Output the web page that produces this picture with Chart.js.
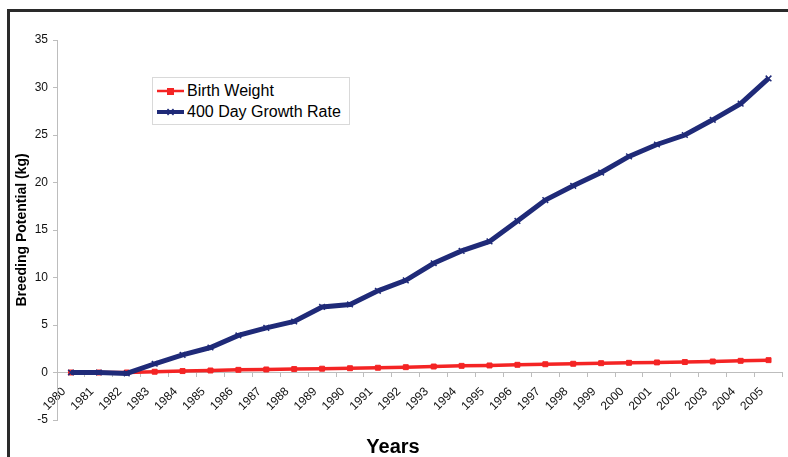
<!DOCTYPE html>
<html>
<head>
<meta charset="utf-8">
<script src="https://cdn.jsdelivr.net/npm/chart.js@4/dist/chart.umd.min.js"></script>
<style>
  html, body { margin: 0; padding: 0; background: #fff; overflow: hidden; }
  #wrap { position: relative; width: 788px; height: 457px; }
  #frame { position: absolute; left: 7px; top: 9px; width: 900px; height: 600px;
           border-left: 3px solid #2a2a2a; border-top: 3px solid #2a2a2a; pointer-events: none; }
  #legend { position: absolute; left: 152px; top: 77px; width: 196px; height: 44px;
            border: 1px solid #d9d9d9; background: #fff; padding-top: 2px;
            font: 16px "Liberation Sans", Arial, sans-serif; color: #000; }
  #legend .row { height: 21px; display: flex; align-items: center; padding-left: 4px; }
  #legend svg { margin-right: 3px; }
</style>
</head>
<body>
<div id="wrap">
  <canvas id="chart" width="788" height="457"></canvas>
  <div id="frame"></div>
  <div id="legend"></div>
</div>
<script>
    // categories and series values
    var years = ["1980", "1981", "1982", "1983", "1984", "1985", "1986", "1987", "1988",
        "1989", "1990", "1991", "1992", "1993", "1994", "1995", "1996", "1997", "1998",
        "1999", "2000", "2001", "2002", "2003", "2004", "2005"];

    var birthWeight = [0, 0, 0, 0.08, 0.15, 0.21, 0.28, 0.32, 0.36, 0.4, 0.45, 0.5, 0.56,
        0.63, 0.7, 0.74, 0.81, 0.87, 0.92, 0.98, 1.02, 1.06, 1.1, 1.16, 1.23, 1.3];

    var growthRate = [0, 0, -0.1, 0.92, 1.85, 2.63, 3.9, 4.7, 5.37, 6.9, 7.16, 8.6, 9.7,
        11.5, 12.8, 13.8, 15.95, 18.15, 19.65, 21.05, 22.75, 24.0, 25.0, 26.6, 28.3, 30.95];

    var seriesNames = ["Birth Weight", "400 Day Growth Rate"];
    var yTicks = { min: -5, max: 35, step: 5 };

    var RED = "#f42424";
    var NAVY = "#1f2a78";
    var FONT = "'Liberation Sans', Arial, sans-serif";

    var chart = new Chart(document.getElementById("chart"), {
        type: "line",
        data: {
            labels: years,
            datasets: [{
                label: seriesNames[0],
                data: birthWeight,
                borderColor: RED,
                backgroundColor: RED,
                borderWidth: 3.5,
                pointStyle: "rect",
                pointRadius: 3.5,
                pointBorderWidth: 1,
                tension: 0,
                order: 2
            }, {
                label: seriesNames[1],
                data: growthRate,
                borderColor: NAVY,
                backgroundColor: NAVY,
                borderWidth: 5,
                pointStyle: "crossRot",
                pointRadius: 4,
                pointBorderWidth: 1.5,
                tension: 0,
                order: 1
            }]
        },
        options: {
            responsive: false,
            animation: false,
            layout: { padding: { left: 0, right: 2, top: 40, bottom: 0 } },
            plugins: {
                legend: { display: false },
                tooltip: { enabled: false },
                title: {
                    display: true,
                    text: "Years",
                    position: "bottom",
                    color: "#000",
                    font: { family: FONT, size: 20, weight: "bold", lineHeight: 1 },
                    padding: { top: 17, bottom: 0 }
                }
            },
            scales: {
                x: {
                    type: "category",
                    position: { y: 0 },
                    offset: true,
                    // labels hang below the zero line, keep them from squeezing the plot
                    afterFit: function (scale) { scale.paddingLeft = 0; scale.paddingRight = 0; },
                    grid: { display: true, drawOnChartArea: false, drawTicks: true,
                            tickLength: 4, offset: true, color: "#bdbdbd" },
                    border: { color: "#bdbdbd", width: 1 },
                    ticks: { autoSkip: false, minRotation: 45, maxRotation: 45,
                             color: "#111", font: { family: FONT, size: 12 },
                             padding: 8, labelOffset: -7 }
                },
                y: {
                    min: yTicks.min,
                    max: yTicks.max,
                    position: "left",
                    afterFit: function (scale) { scale.width = 57; },
                    grid: { display: true, drawOnChartArea: false, drawTicks: true,
                            tickLength: 4, color: "#bdbdbd" },
                    border: { color: "#bdbdbd", width: 1 },
                    ticks: { stepSize: yTicks.step, color: "#111", padding: 5,
                             font: { family: FONT, size: 12 } },
                    title: {
                        display: true,
                        text: "Breeding Potential (kg)",
                        color: "#000",
                        font: { family: FONT, size: 14, weight: "bold", lineHeight: 1.2 },
                        padding: { top: 13.5, bottom: 0 }
                    }
                }
            }
        }
    });

    /* legend built from the datasets: line sample with its marker */
    var legendBox = document.getElementById("legend");
    chart.data.datasets.forEach(function (ds) {
        var mark;
        if (ds.pointStyle === "rect") {
            mark = '<rect x="10" y="2" width="7" height="7" fill="' + ds.borderColor + '"/>';
        } else {
            mark = '<path d="M10.5,2 L16.5,8 M16.5,2 L10.5,8" stroke="' + ds.borderColor + '" stroke-width="1.5"/>';
        }
        var row = document.createElement("div");
        row.className = "row";
        row.innerHTML = '<svg width="27" height="10"><line x1="0" y1="5" x2="27" y2="5" stroke="' +
            ds.borderColor + '" stroke-width="' + (ds.borderWidth - 1) + '"/>' + mark + '</svg>' +
            '<span>' + ds.label + '</span>';
        legendBox.appendChild(row);
    });
</script>
</body>
</html>
